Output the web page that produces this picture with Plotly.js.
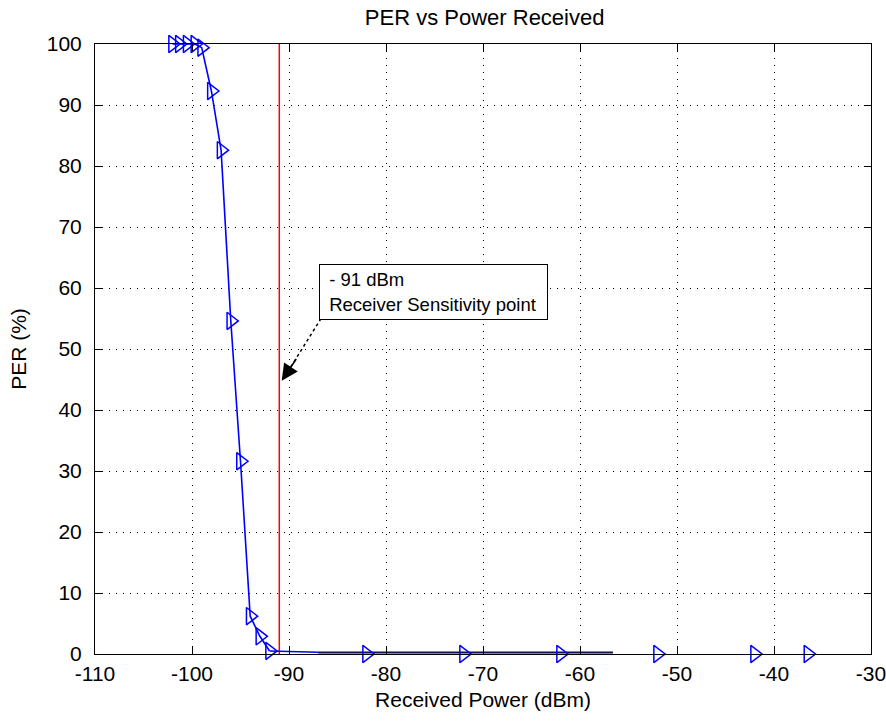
<!DOCTYPE html>
<html>
<head>
<meta charset="utf-8">
<script src="https://cdn.plot.ly/plotly-3.0.1.min.js"></script>
<style>html,body{margin:0;padding:0;background:#fff;}#plot{width:886px;height:721px;}</style>
</head>
<body>
<div id="plot"></div>
<script>
// Measured PER curve (marker points)
var powerDbm = [-102, -101.3, -100.5, -99.7, -99, -98, -97, -96, -95, -94, -93, -92];
var perPct   = [100, 100, 100, 100, 99.4, 92.3, 82.6, 54.6, 31.6, 6.2, 2.9, 0.5];
// Remaining markers on the floor
var floorX = [-82, -72, -62, -52, -42, -36.5];
var floorY = [0, 0, 0, 0, 0, 0];
// Line continuation along the floor
var tailX = [-92, -87];
var tailY = [0.5, 0.3];
var darkX = [-87, -56.6];
var darkY = [0.25, 0.25];
// Sensitivity marker
var sensX = [-91, -91];
var sensY = [0, 100];
var xTicks = [-110, -100, -90, -80, -70, -60, -50, -40, -30];
var yTicks = [0, 10, 20, 30, 40, 50, 60, 70, 80, 90, 100];
var annoHead = {x: -90.75, y: 44.8};
var annoTail = {x: -86.7, y: 55.0};
var annoBox = {x: -86.95, y: 63.9};

var FONT = '"Liberation Sans", Arial, sans-serif';
var blue = '#0000ff';

var traces = [
  {x: sensX, y: sensY, mode: 'lines', line: {color: '#ff0000', width: 1.5}, hoverinfo: 'skip'},
  {x: tailX, y: tailY, mode: 'lines', line: {color: blue, width: 1.5}},
  {x: darkX, y: darkY, mode: 'lines', line: {color: '#101050', width: 2}},
  {x: powerDbm, y: perPct, mode: 'lines+markers',
   line: {color: blue, width: 1.6},
   marker: {symbol: 'triangle-right-open', size: 15, color: blue, line: {color: blue, width: 1.5}},
   cliponaxis: false},
  {x: floorX, y: floorY, mode: 'markers',
   marker: {symbol: 'triangle-right-open', size: 15, color: blue, line: {color: blue, width: 1.5}},
   cliponaxis: false}
];

var axisCommon = {
  showline: true, linecolor: '#000', linewidth: 1, mirror: 'ticks',
  ticks: 'inside', ticklen: 7, tickcolor: '#000', tickwidth: 1,
  showgrid: true, gridcolor: '#000', gridwidth: 1, griddash: '1px,6px',
  zeroline: false, tickfont: {family: FONT, size: 21, color: '#000'},
  ticklabeloverflow: 'allow'
};

var layout = {
  width: 886, height: 721,
  margin: {l: 95, r: 15, t: 44, b: 67},
  paper_bgcolor: '#fff', plot_bgcolor: '#fff',
  showlegend: false,
  title: {text: 'PER vs Power Received', font: {family: FONT, size: 22, color: '#000'},
          x: 0.547, xanchor: 'center', y: 0.987, yanchor: 'top'},
  xaxis: Object.assign({}, axisCommon, {
    range: [-110, -30], tickvals: xTicks, ticktext: xTicks.map(String), ticklabelstandoff: 1,
    title: {text: 'Received Power (dBm)', font: {family: FONT, size: 21, color: '#000'}, standoff: 8}
  }),
  yaxis: Object.assign({}, axisCommon, {
    range: [0, 100], tickvals: yTicks, ticktext: yTicks.map(String), ticklabelstandoff: 8,
    title: {text: 'PER (%)', font: {family: FONT, size: 21, color: '#000'}, standoff: 14}
  }),
  shapes: [
    {type: 'line', xref: 'x', yref: 'y', x0: annoTail.x, y0: annoTail.y, x1: annoHead.x + 0.6, y1: annoHead.y + 1.4,
     line: {color: '#000', width: 1.5, dash: 'dot'}}
  ],
  annotations: [
    {xref: 'x', yref: 'y', x: annoBox.x, y: annoBox.y, xanchor: 'left', yanchor: 'top',
     text: '&nbsp;- 91 dBm<br>&nbsp;Receiver Sensitivity point', align: 'left', showarrow: false,
     width: 219, height: 46,
     font: {family: FONT, size: 18.5, color: '#000'},
     bgcolor: '#fff', bordercolor: '#000', borderwidth: 1, borderpad: 4},
    {xref: 'x', yref: 'y', x: annoHead.x, y: annoHead.y, text: '', showarrow: true,
     axref: 'x', ayref: 'y', ax: annoHead.x + 1.6, ay: annoHead.y + 3.8,
     arrowhead: 2, arrowsize: 2.2, arrowwidth: 1.5, arrowcolor: '#000'}
  ]
};

Plotly.newPlot('plot', traces, layout, {displayModeBar: false, staticPlot: true});
</script>
</body>
</html>
